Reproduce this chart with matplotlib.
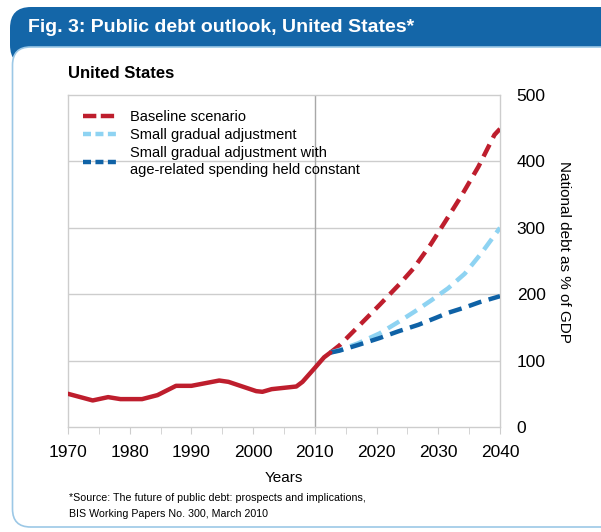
import matplotlib
matplotlib.use("Agg")
import matplotlib.pyplot as plt
from matplotlib.patches import FancyBboxPatch
from matplotlib.lines import Line2D

plt.rcParams['font.family'] = ['Liberation Sans', 'DejaVu Sans']

# Historical debt ratio (% of GDP)
hist_years = [1970, 1974, 1976.5, 1978.5, 1982, 1984.5, 1987.5, 1990, 1994.5, 1996,
              2000.5, 2001.5, 2003, 2007, 2008, 2010, 2011.5, 2012.5]
hist_values = [50, 40, 45, 42, 42, 48, 62, 62, 70, 68,
               54, 53, 57, 61, 68, 89, 105, 112]

# Projections
base_years = [2012.5, 2014, 2017, 2020.5, 2023.8, 2026, 2028.7, 2031.1, 2033.8,
              2036.5, 2039.1, 2040]
baseline = [112, 123, 151, 184, 216, 239, 274, 309, 349, 392, 440, 449]

grad_years = [2012.5, 2014, 2017, 2020.5, 2023.5, 2026.2, 2028.9, 2031.6, 2034.3,
              2037, 2040]
gradual = [112, 116, 126, 141, 158, 174, 191, 209, 231, 262, 300]

const_years = [2012.5, 2014, 2017, 2020.5, 2023.5, 2026.8, 2029.5, 2031.6, 2034.3,
               2036.7, 2040]
gradual_const_age = [112, 115, 123.5, 134, 144, 154, 164, 172, 180, 188, 197]

x_ticks = [1970, 1980, 1990, 2000, 2010, 2020, 2030, 2040]
y_ticks = [0, 100, 200, 300, 400, 500]

RED = '#BE1E2D'
LIGHT = '#8ED3F2'
DARK = '#0F62A6'
BANNER = '#1466A8'
GRID = '#CDCDCD'

W, H = 601, 532
fig = plt.figure(figsize=(W / 100, H / 100), dpi=100)
fig.patch.set_facecolor('white')

def fx(px):
    return px / W

def fy(py):
    return 1 - py / H

# Blue header banner and white content panel
banner = FancyBboxPatch((fx(10), fy(66)), fx(650), fy(7) - fy(66),
                        boxstyle="round,pad=0,rounding_size=0.035",
                        transform=fig.transFigure, facecolor=BANNER,
                        edgecolor='none', zorder=0, mutation_aspect=W / H)
fig.patches.append(banner)
panel = FancyBboxPatch((fx(12.5), fy(527)), fx(650), fy(47) - fy(527),
                       boxstyle="round,pad=0,rounding_size=0.03",
                       transform=fig.transFigure, facecolor='white',
                       edgecolor='#9CC8E6', linewidth=1.2, zorder=0.5,
                       mutation_aspect=W / H)
fig.patches.append(panel)

fig.text(fx(28), fy(27), 'Fig. 3: Public debt outlook, United States*',
         color='white', fontsize=14, fontweight='bold', va='center', ha='left')
fig.text(fx(68), fy(73), 'United States', fontsize=12, fontweight='bold',
         va='center', ha='left')

ax = fig.add_axes([fx(68), fy(427), fx(500) - fx(68), fy(95) - fy(427)])
ax.set_facecolor('none')
ax.set_zorder(2)

ax.set_xlim(1970, 2040)
ax.set_ylim(0, 500)

for v in [100, 200, 300, 400]:
    ax.axhline(v, color=GRID, linewidth=1, zorder=1)
ax.axvline(2010, color='#A8A8A8', linewidth=1, zorder=1)

dash = (3.0, 1.7)
ax.plot(base_years, baseline, color=RED, linewidth=3.2, dashes=dash, zorder=3)
ax.plot(grad_years, gradual, color=LIGHT, linewidth=3.2, dashes=dash, zorder=3)
ax.plot(const_years, gradual_const_age, color=DARK, linewidth=3.2, dashes=dash, zorder=4)
ax.plot(hist_years, hist_values, color=RED, linewidth=3.2, solid_joinstyle='round',
        solid_capstyle='round', zorder=5)

for s in ax.spines.values():
    s.set_color(GRID)
    s.set_linewidth(1)

ax.set_xticks(x_ticks)
ax.set_xticks(list(range(1975, 2040, 10)), minor=True)
ax.tick_params(axis='x', which='both', direction='out', length=5, color=GRID,
               labelsize=12.5, pad=8)
ax.yaxis.tick_right()
ax.set_yticks(y_ticks)
ax.tick_params(axis='y', length=0, labelsize=12.5, pad=12)
ax.yaxis.set_label_position('right')
ax.set_ylabel('National debt as % of GDP', rotation=-90, fontsize=11,
              va='center', ha='center')
ax.yaxis.set_label_coords(1.147, 0.527)
ax.set_xlabel('Years', fontsize=11, labelpad=8)

handles = [Line2D([], [], color=RED, linewidth=3.2, dashes=(3.0, 1.0)),
           Line2D([], [], color=LIGHT, linewidth=3.2, dashes=(1.8, 1.0)),
           Line2D([], [], color=DARK, linewidth=3.2, dashes=(1.8, 1.0))]
labels = ['Baseline scenario', 'Small gradual adjustment',
          'Small gradual adjustment with\nage-related spending held constant']
leg = ax.legend(handles, labels, loc='upper left', bbox_to_anchor=(0.021, 0.972),
                frameon=False, fontsize=10.5, handlelength=2.4, handletextpad=0.8,
                labelspacing=0.27, borderaxespad=0)
for t in leg.get_texts():
    t.set_linespacing(1.3)

fig.text(fx(69), fy(498), '*Source: The future of public debt: prospects and implications,',
         fontsize=7.7, va='center', ha='left')
fig.text(fx(69), fy(514), 'BIS Working Papers No. 300, March 2010',
         fontsize=7.7, va='center', ha='left')

fig.savefig('out.png', dpi=100, facecolor='white')
